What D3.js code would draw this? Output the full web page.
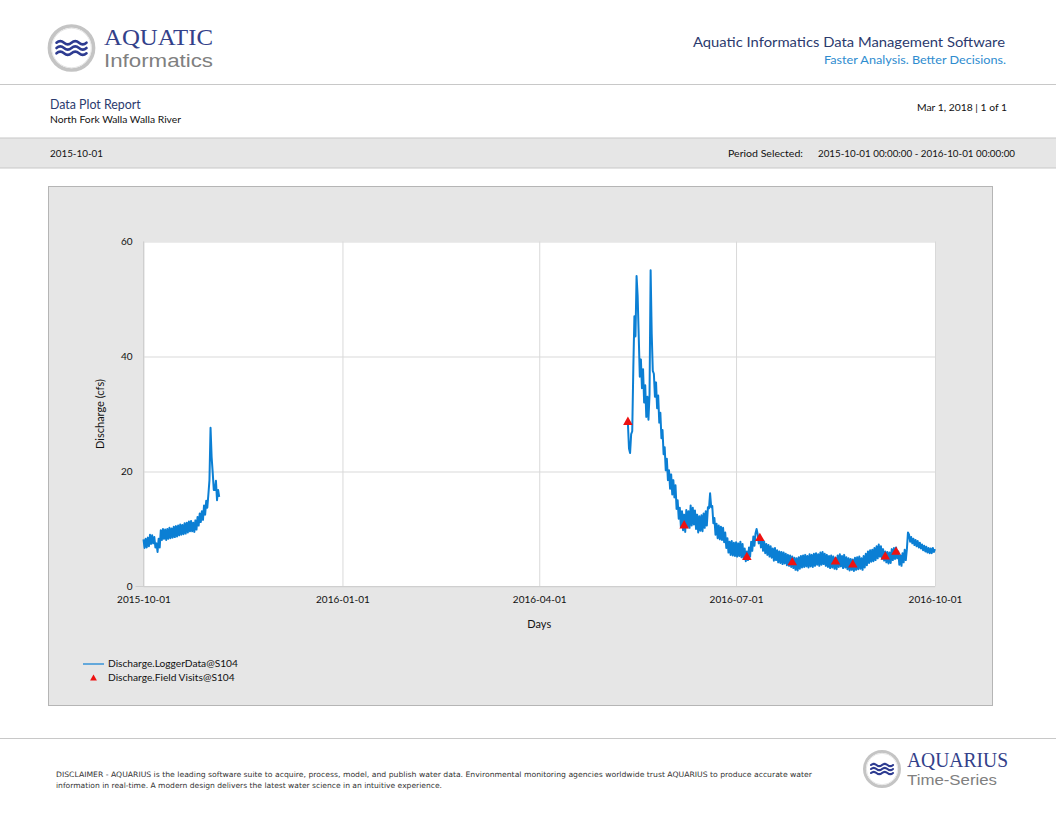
<!DOCTYPE html>
<html><head><meta charset="utf-8">
<script src="https://cdn.jsdelivr.net/npm/d3@7"></script>
<style>body{margin:0;background:#fff}svg{display:block;font-family:Lato,"Open Sans",sans-serif}</style>
</head><body>
<svg id="c" width="1056" height="816"></svg>
<script>
// ---------- DATA ----------
const xTickLabels = ["2015-10-01","2016-01-01","2016-04-01","2016-07-01","2016-10-01"];
const yTickValues = [0, 20, 40, 60];
const seriesNames = ["Discharge.LoggerData@S104", "Discharge.Field Visits@S104"];
const loggerStepHours = 12;
const loggerStart1 = "2015-10-01T00:00:00Z";
const loggerValues1 = [
  8.2,6.7,8.3,6.8,8.5,7.0,9.0,7.4,8.9,7.5,
  8.6,6.8,7.5,6.0,8.3,6.8,9.8,8.1,10.0,8.3,
  9.9,8.1,10.0,8.3,10.2,8.4,10.1,8.5,10.4,8.6,
  10.5,8.7,10.6,8.9,10.8,9.0,10.7,9.1,11.0,9.2,
  11.1,9.4,11.3,9.6,11.4,9.6,11.1,9.5,11.5,9.9,
  12.1,10.6,12.7,11.2,13.1,11.6,14.1,12.5,14.9,13.7,
  16.0,18.5,27.6,22.5,19.8,16.8,16.8,18.4,15.0,16.8,
  15.6
];
const loggerStart2 = "2016-05-12T00:00:00Z";
const loggerValues2 = [
  28.3,24.0,23.2,26.5,27.0,38.0,47.0,43.5,54.0,50.5,
  43.5,36.5,39.5,34.5,37.8,32.0,35.0,29.5,33.0,29.0,
  33.5,55.0,44.0,37.5,37.0,33.0,35.5,31.0,33.2,28.5,
  30.2,25.8,27.2,23.0,24.2,20.2,22.2,18.5,20.2,17.0,
  19.5,16.0,18.5,15.5,17.6,13.5,15.0,11.8,13.7,10.4,
  13.1,9.8,12.5,9.5,13.3,10.3,13.1,10.2,14.1,10.6,
  13.7,10.8,13.2,10.0,12.5,9.4,12.2,9.7,12.4,9.6,
  12.7,10.2,13.1,10.6,13.8,13.6,16.2,13.8,14.0,11.0,
  11.9,9.0,10.9,8.4,10.6,8.2,10.4,8.1,10.2,7.7,
  9.4,6.7,8.4,5.9,7.8,5.5,7.9,5.4,7.6,5.3,
  7.7,5.2,7.5,5.3,7.8,5.1,7.4,4.9,6.6,4.4,
  6.1,4.6,6.8,5.2,7.8,6.2,8.7,7.1,9.2,10.0,
  9.1,7.5,8.8,6.8,8.1,6.2,7.8,5.8,7.4,5.5,
  7.2,5.2,7.0,5.0,6.6,4.5,6.7,4.6,6.3,4.2,
  6.1,4.1,6.0,3.9,5.9,4.0,5.7,3.7,5.5,3.6,
  5.4,3.4,5.2,3.2,5.0,2.9,4.9,2.8,5.1,3.1,
  5.3,3.3,5.4,3.4,5.5,3.5,5.3,3.3,5.6,3.5,
  5.5,3.4,5.7,3.6,5.8,3.8,5.6,3.6,5.9,3.8,
  6.0,3.9,5.7,3.6,5.5,3.4,5.3,3.2,5.4,3.3,
  5.2,3.1,5.0,3.0,5.4,3.4,5.6,3.5,5.3,3.2,
  5.5,3.3,5.1,3.0,4.9,2.8,4.8,2.9,4.7,2.7,
  5.0,2.9,5.1,3.0,5.2,3.1,4.9,2.9,5.3,3.3,
  5.7,3.7,6.1,4.1,6.3,4.3,6.4,4.4,6.7,4.6,
  7.0,4.9,7.3,5.2,7.0,4.8,6.5,4.5,6.1,4.2,
  6.0,4.0,5.9,4.1,6.5,4.6,6.7,4.8,6.8,4.9,
  6.1,3.8,5.4,3.6,5.8,4.2,6.4,4.6,6.5,9.4,
  9.0,7.8,8.6,7.5,8.3,7.2,8.1,7.0,7.9,6.8,
  7.6,6.6,7.3,6.3,7.1,6.1,6.9,5.9,6.7,5.8,
  6.6,5.8,6.7,6.0,6.5
];
const visitDates = ["2016-05-12","2016-06-07","2016-07-06","2016-07-12","2016-07-27","2016-08-16","2016-08-24","2016-09-08","2016-09-13"];
const visitValues = [28.5, 10.5, 5.0, 8.3, 4.1, 4.2, 3.7, 5.1, 5.9];

// ---------- BUILD ----------
const svg = d3.select("#c");
const navy = "#2b3a6e", gridC = "#d9d9d9", lineC = "#0b7fd4";

function buildSeries(start, vals){
  const t0 = new Date(start).getTime();
  return vals.map((v,i)=>({date:new Date(t0 + i*loggerStepHours*3600e3), value:v}));
}
const seg1 = buildSeries(loggerStart1, loggerValues1);
const seg2 = buildSeries(loggerStart2, loggerValues2);
const visits = visitDates.map((d,i)=>({date:new Date(d+"T00:00:00Z"), value:visitValues[i]}));

function txt(x, y, s, size, opts){
  opts = opts || {};
  const t = svg.append("text").attr("x",x).attr("y",y).attr("font-size",size).attr("fill",opts.fill || "#111").text(s);
  if (opts.anchor) t.attr("text-anchor",opts.anchor);
  if (opts.family) t.attr("font-family",opts.family);
  if (opts.len) t.attr("textLength",opts.len).attr("lengthAdjust","spacingAndGlyphs");
  return t;
}

// Logo
function logoWaves(g, cx, cy, r, waveW, amp, gap, sw){
  g.append("circle").attr("cx",cx).attr("cy",cy).attr("r",r).attr("fill","#fff").attr("stroke","#c4c4c4").attr("stroke-width",r*0.17);
  g.append("circle").attr("cx",cx).attr("cy",cy).attr("r",r*0.9).attr("fill","none").attr("stroke","#e6e6e6").attr("stroke-width",1);
  const seg = waveW/4;
  [-gap,0,gap].forEach(dy=>{
    const yy = cy+dy;
    g.append("path").attr("d",`M${cx-waveW/2},${yy} q${seg/2},${-amp} ${seg},0 t${seg},0 t${seg},0 t${seg},0`)
      .attr("fill","none").attr("stroke","#2d3b91").attr("stroke-width",sw).attr("stroke-linecap","round");
  });
}
logoWaves(svg.append("g"), 71.5, 48, 22, 30, 3.2, 5.3, 2.6);
txt(104, 45, "AQUATIC", 23, {family:"'Liberation Serif',serif", fill:"#33418a", len:109});
txt(104, 66.5, "Informatics", 17.5, {family:"'Liberation Sans',sans-serif", fill:"#808080", len:109});

// Header
txt(1005, 47, "Aquatic Informatics Data Management Software", 14.2, {anchor:"end", fill:navy, len:312});
txt(1006, 64, "Faster Analysis. Better Decisions.", 11.4, {anchor:"end", fill:"#2e8ccf", len:182});
svg.append("line").attr("x1",0).attr("x2",1056).attr("y1",84.5).attr("y2",84.5).attr("stroke","#c8c8c8");

txt(50, 109, "Data Plot Report", 12.4, {fill:navy});
txt(50, 123, "North Fork Walla Walla River", 9.6, {len:131});
txt(1007, 111, "Mar 1, 2018 | 1 of 1", 9.8, {anchor:"end", len:90});

svg.append("rect").attr("x",-1).attr("y",138).attr("width",1058).attr("height",30).attr("fill","#e6e6e6").attr("stroke","#c8c8c8");
txt(50, 157, "2015-10-01", 9.8, {len:53});
txt(728, 157, "Period Selected:", 9.8, {len:75});
txt(1015, 157, "2015-10-01 00:00:00 - 2016-10-01 00:00:00", 9.8, {anchor:"end", len:197});

// Chart panel
svg.append("rect").attr("x",48.5).attr("y",186.5).attr("width",944).attr("height",519).attr("fill","#e6e6e6").attr("stroke","#b5b5b5");

const pl = 143.5, pr = 935, pt = 241.5, pb = 586.5;
const x = d3.scaleUtc().domain([new Date("2015-10-01T00:00:00Z"), new Date("2016-10-01T00:00:00Z")]).range([pl, pr]);
const y = d3.scaleLinear().domain([0, 60]).range([pb, pt]);

svg.append("rect").attr("x",pl).attr("y",pt).attr("width",pr-pl).attr("height",pb-pt).attr("fill","#fff");

const xTicks = xTickLabels.map(s=>new Date(s+"T00:00:00Z"));
const gx = svg.append("g").attr("transform",`translate(0,${pb})`)
  .call(d3.axisBottom(x).tickValues(xTicks).tickFormat(d3.utcFormat("%Y-%m-%d")).tickSize(-(pb-pt)).tickPadding(8));
gx.select(".domain").remove();
gx.selectAll(".tick line").attr("stroke",gridC);
gx.selectAll(".tick text").attr("font-size",10).attr("fill","#111").attr("font-family","Lato,sans-serif").attr("dy","0.85em");

const gy = svg.append("g").attr("transform",`translate(${pl},0)`)
  .call(d3.axisLeft(y).tickValues(yTickValues).tickSize(8).tickPadding(3));
gy.select(".domain").remove();
gy.selectAll(".tick line").attr("stroke",gridC).attr("x2", pr-pl);
gy.selectAll(".tick text").attr("font-size",10).attr("fill","#111").attr("font-family","Lato,sans-serif");
svg.append("line").attr("x1",pl-8).attr("x2",pr).attr("y1",pb).attr("y2",pb).attr("stroke","#cfcfcf");
svg.append("line").attr("x1",pl).attr("x2",pl).attr("y1",pt).attr("y2",pb).attr("stroke","#cfcfcf");

txt((pl+pr)/2, 628, "Days", 11, {anchor:"middle"});
svg.append("text").attr("transform",`translate(104,${(pt+pb)/2}) rotate(-90)`).attr("text-anchor","middle").attr("font-size",11).attr("fill","#111").text("Discharge (cfs)");

const line = d3.line().x(d=>x(d.date)).y(d=>y(d.value));
[seg1, seg2].forEach(s=>{
  svg.append("path").datum(s).attr("d",line).attr("fill","none").attr("stroke",lineC).attr("stroke-width",2).attr("stroke-linejoin","round");
});

const tri = d3.symbol().type(d3.symbolTriangle).size(40);
svg.append("g").selectAll("path").data(visits).join("path")
  .attr("transform",d=>`translate(${x(d.date)},${y(d.value)-0.5})`).attr("d",tri).attr("fill","#ee1111");

// Legend
svg.append("line").attr("x1",83).attr("x2",104).attr("y1",664).attr("y2",664).attr("stroke",lineC).attr("stroke-width",1.2);
txt(108, 667, seriesNames[0], 10.2);
svg.append("path").attr("transform","translate(93.5,678.5)").attr("d",d3.symbol().type(d3.symbolTriangle).size(20)).attr("fill","#ee1111");
txt(108, 681, seriesNames[1], 10.2);

// Footer
svg.append("line").attr("x1",0).attr("x2",1056).attr("y1",738.5).attr("y2",738.5).attr("stroke","#c8c8c8");
txt(56, 777, "DISCLAIMER - AQUARIUS is the leading software suite to acquire, process, model, and publish water data. Environmental monitoring agencies worldwide trust AQUARIUS to produce accurate water", 7.4, {family:"'DejaVu Sans',sans-serif", fill:"#333", len:756});
txt(56, 788, "information in real-time. A modern design delivers the latest water science in an intuitive experience.", 7.4, {family:"'DejaVu Sans',sans-serif", fill:"#333", len:386});
logoWaves(svg.append("g"), 882, 769, 17.5, 22, 2.4, 4, 2.1);
txt(907, 767, "AQUARIUS", 20, {family:"'Liberation Serif',serif", fill:"#33418a", len:101});
txt(907, 784.5, "Time-Series", 14.5, {family:"'Liberation Sans',sans-serif", fill:"#808080", len:90});
</script>
</body></html>
